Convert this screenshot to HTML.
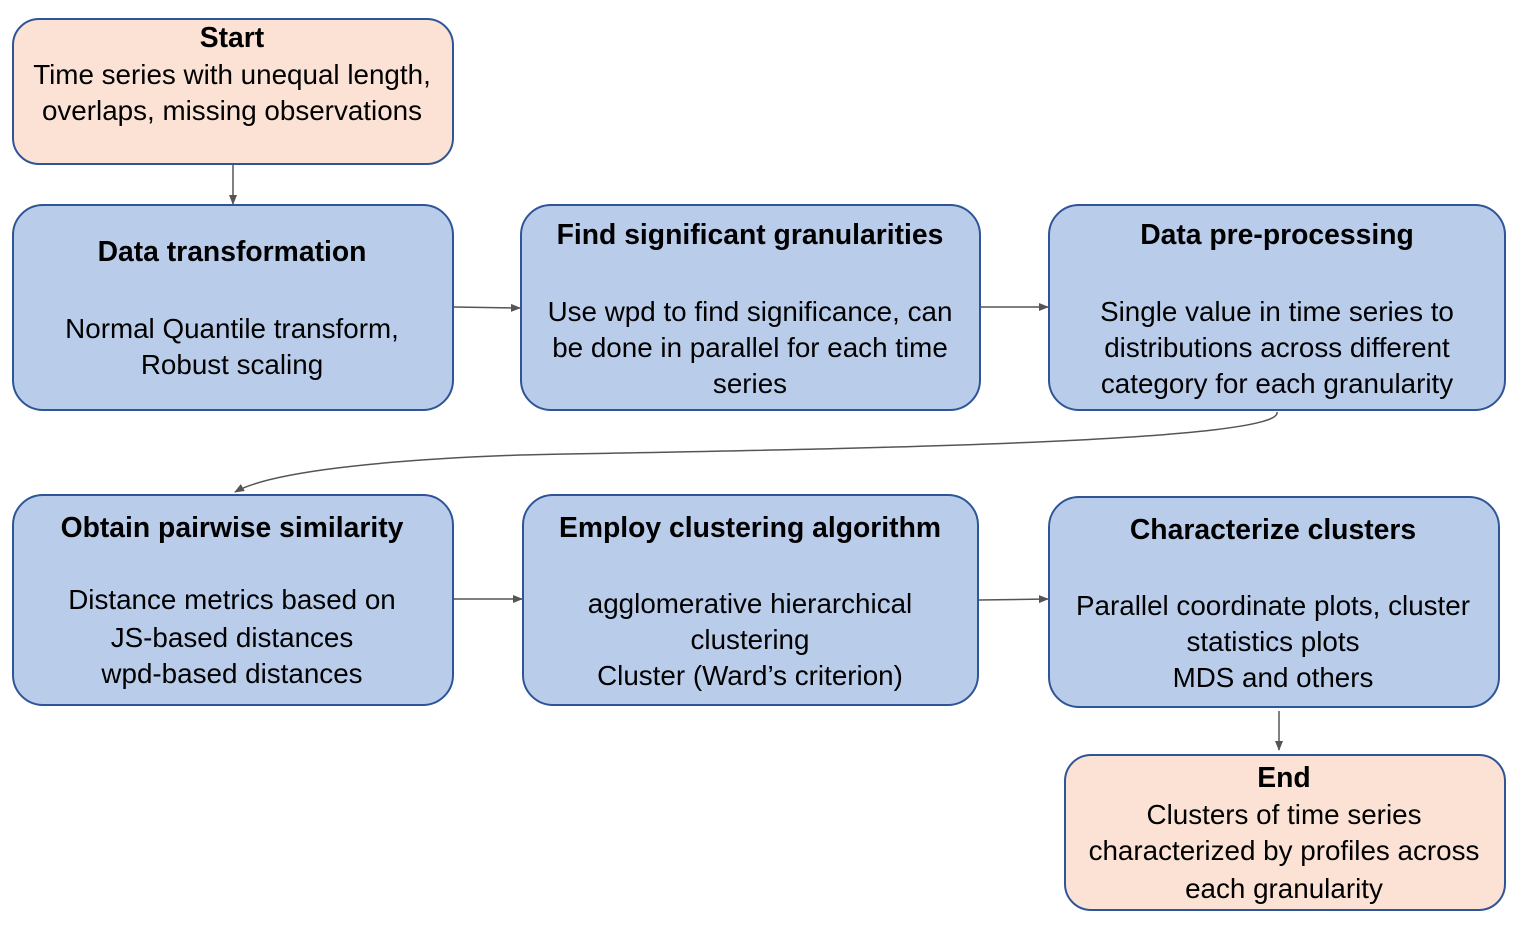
<!DOCTYPE html>
<html><head><meta charset="utf-8"><style>body{margin:0;background:#fff}svg{display:block}</style></head><body>
<svg width="1522" height="930" viewBox="0 0 1522 930" font-family="'Liberation Sans', sans-serif" font-size="27.8" text-anchor="middle" fill="#000">
<defs><marker id="a" markerWidth="10" markerHeight="10" refX="9" refY="5" orient="auto" markerUnits="userSpaceOnUse"><path d="M0,1 L10,5 L0,9 z" fill="#555"/></marker></defs>
<g stroke="#2F5597" stroke-width="2">
<rect x="13" y="19" width="440" height="145" rx="26" fill="#FBE2D5"/>
<rect x="13" y="205" width="440" height="205" rx="30" fill="#B9CDEB"/>
<rect x="521" y="205" width="459" height="205" rx="30" fill="#B9CDEB"/>
<rect x="1049" y="205" width="456" height="205" rx="30" fill="#B9CDEB"/>
<rect x="13" y="495" width="440" height="210" rx="30" fill="#B9CDEB"/>
<rect x="523" y="495" width="455" height="210" rx="30" fill="#B9CDEB"/>
<rect x="1049" y="497" width="450" height="210" rx="30" fill="#B9CDEB"/>
<rect x="1065" y="755" width="440" height="155" rx="26" fill="#FBE2D5"/>
</g>
<g stroke="#555" stroke-width="1.5" fill="none" marker-end="url(#a)">
<path d="M233 165 V204"/>
<path d="M454 307 L520 308"/>
<path d="M981 307 H1048"/>
<path d="M1277 412 C1285 445 750 450 520 455 C380 460 270 472 235 492"/>
<path d="M454 599 H522"/>
<path d="M979 600 L1048 599"/>
<path d="M1279 711 V750"/>
</g>
<g font-weight="bold" font-size="28.3">
<text x="232" y="47">Start</text>
<text x="232" y="261">Data transformation</text>
<text x="750" y="244">Find significant granularities</text>
<text x="1277" y="244">Data pre-processing</text>
<text x="232" y="537">Obtain pairwise similarity</text>
<text x="750" y="537">Employ clustering algorithm</text>
<text x="1273" y="539">Characterize clusters</text>
<text x="1284" y="787">End</text>
</g>
<text x="232" y="84">Time series with unequal length,</text>
<text x="232" y="120">overlaps, missing observations</text>
<text x="232" y="338">Normal Quantile transform,</text>
<text x="232" y="374">Robust scaling</text>
<text x="750" y="321">Use wpd to find significance, can</text>
<text x="750" y="357">be done in parallel for each time</text>
<text x="750" y="393">series</text>
<text x="1277" y="321">Single value in time series to</text>
<text x="1277" y="357">distributions across different</text>
<text x="1277" y="393">category for each granularity</text>
<text x="232" y="609">Distance metrics based on</text>
<text x="232" y="647">JS-based distances</text>
<text x="232" y="683">wpd-based distances</text>
<text x="750" y="613">agglomerative hierarchical</text>
<text x="750" y="649">clustering</text>
<text x="750" y="685">Cluster (Ward’s criterion)</text>
<text x="1273" y="615">Parallel coordinate plots, cluster</text>
<text x="1273" y="651">statistics plots</text>
<text x="1273" y="687">MDS and others</text>
<text x="1284" y="824">Clusters of time series</text>
<text x="1284" y="860">characterized by profiles across</text>
<text x="1284" y="898">each granularity</text>
</svg>
</body></html>
